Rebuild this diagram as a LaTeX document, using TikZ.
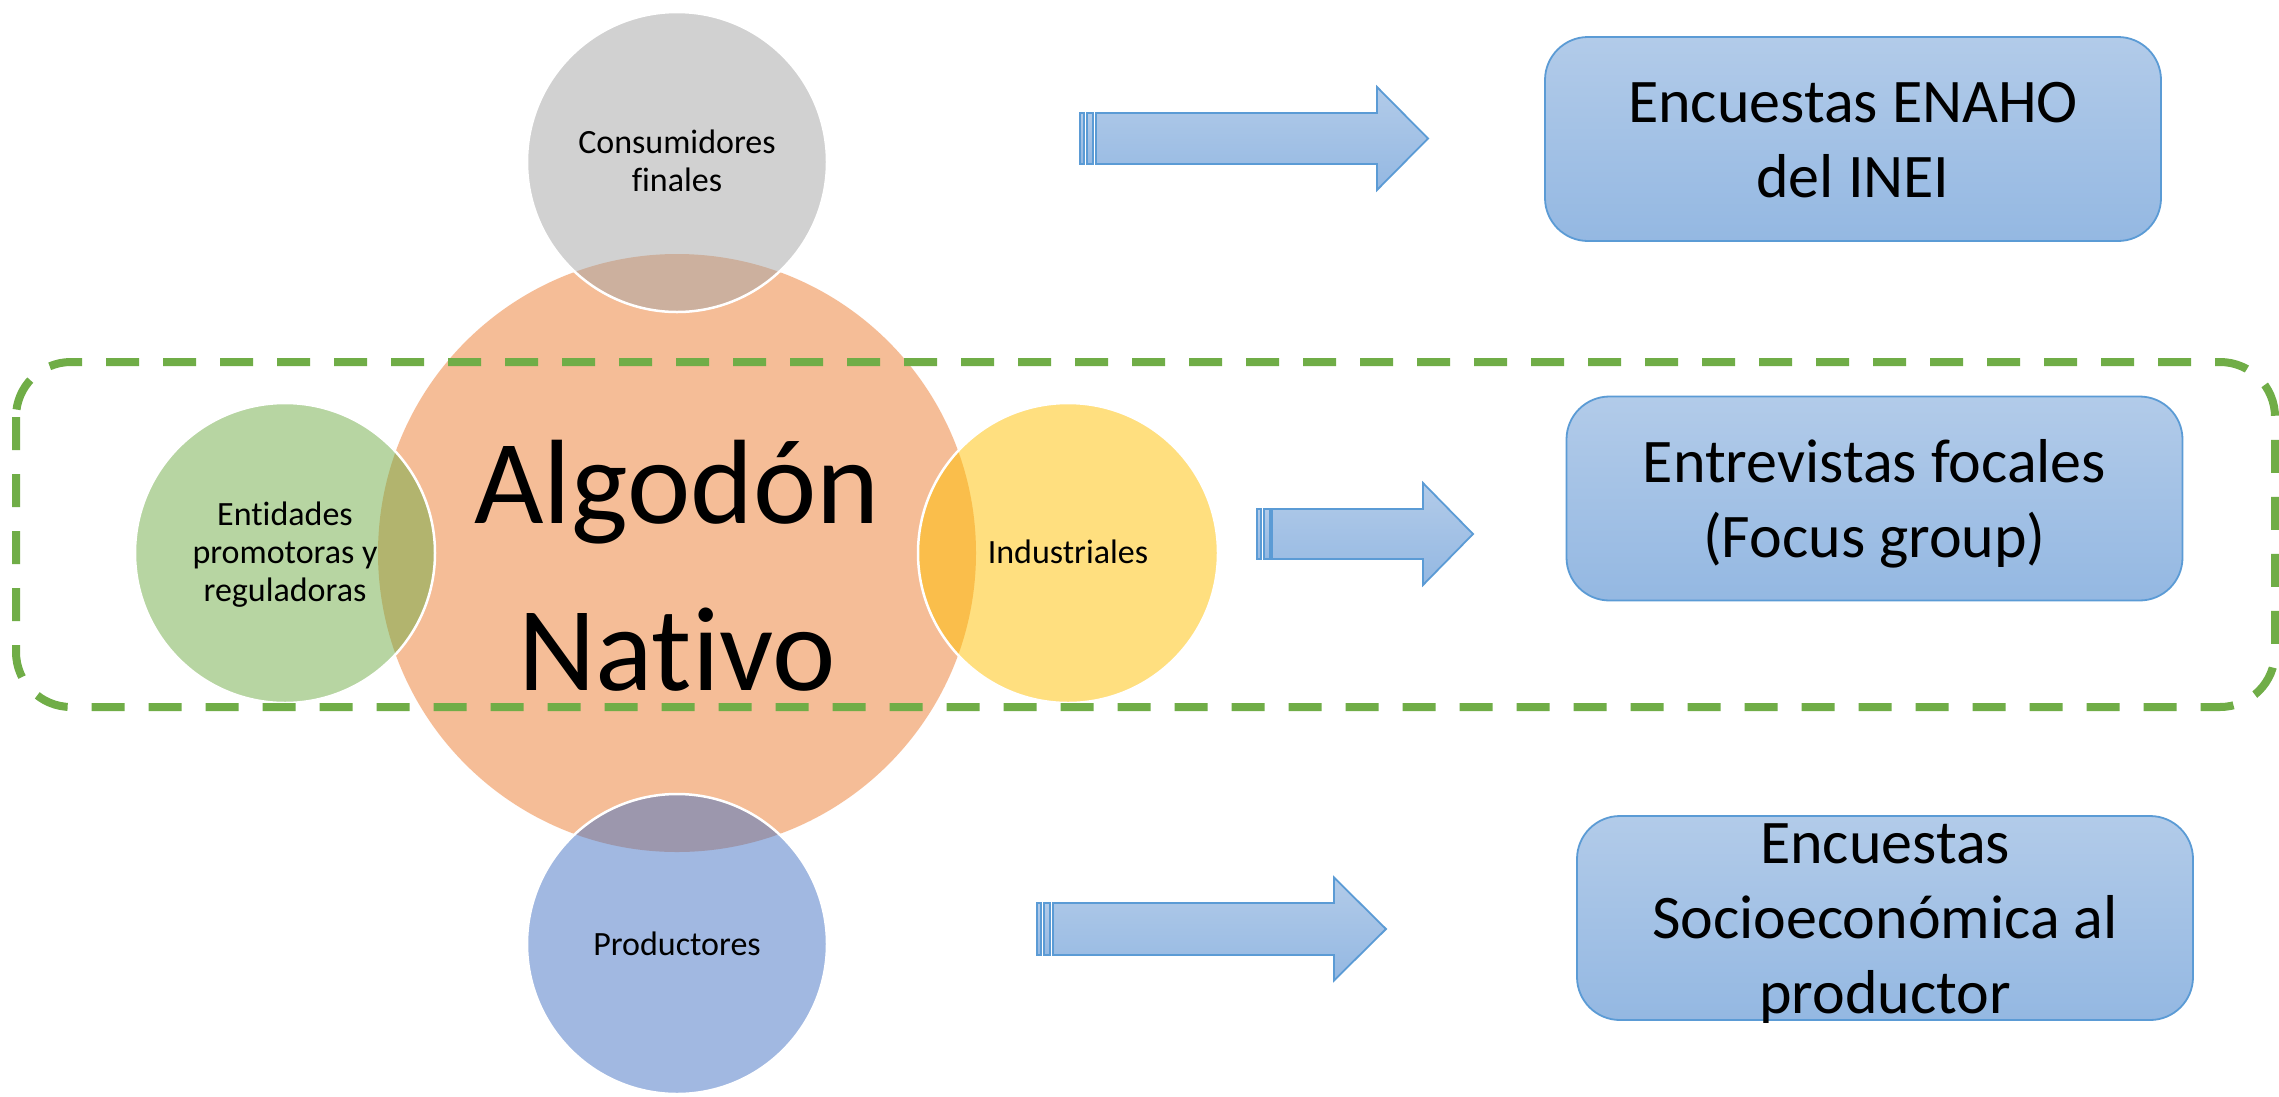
\documentclass[tikz,border=0pt]{standalone}
\usepackage{fontspec}
\setmainfont{Carlito}[Ligatures=NoCommon]
\definecolor{cOrange}{HTML}{ED7D31}
\definecolor{cGray}{HTML}{A5A5A5}
\definecolor{cGreen}{HTML}{70AD47}
\definecolor{cYellow}{HTML}{FFC000}
\definecolor{cBlue}{HTML}{4472C4}
\definecolor{bTop}{RGB}{178,203,233}
\definecolor{bBot}{RGB}{148,184,226}
\definecolor{bLine}{HTML}{5B9BD5}
\definecolor{dashGreen}{HTML}{70AD47}
\newcommand\blkarrow[7]{%
  % #1 x0, #2 body start, #3 head base, #4 tip, #5 yc, #6 body half, #7 head half
  \path[arrowst] (#1,#5-#6) rectangle (#1+4,#5+#6);
  \path[arrowst] (#1+7,#5-#6) rectangle (#1+13,#5+#6);
  \path[arrowst] (#2,#5-#6) -- (#3,#5-#6) -- (#3,#5-#7) -- (#4,#5)
     -- (#3,#5+#7) -- (#3,#5+#6) -- (#2,#5+#6) -- cycle;
}
\begin{document}
\begin{tikzpicture}[x=1pt,y=-1pt,
  bigc/.style={circle, fill=cOrange, fill opacity=0.5, draw=none,
     minimum size=598, inner sep=0},
  smallc/.style={circle, fill=#1, fill opacity=0.5, draw=white,
     draw opacity=1, line width=2.5, minimum size=300, inner sep=0},
  lbl/.style={align=center, inner sep=0, anchor=base,
     font=\fontsize{34}{38}\selectfont},
  biglbl/.style={align=center, inner sep=0, anchor=base,
     font=\fontsize{120}{167}\selectfont},
  boxlbl/.style={align=center, inner sep=0, anchor=base,
     font=\fontsize{62}{75}\selectfont},
  boxst/.style={rectangle, rounded corners=43, draw=bLine, line width=1.8,
     top color=bTop, bottom color=bBot, minimum width=616,
     minimum height=204, inner sep=0},
  arrowst/.style={draw=bLine, line width=1.8, top color=bTop,
     bottom color=bBot},
  groupst/.style={draw=dashGreen, line width=8, dash pattern=on 33 off 24,
     rounded corners=55}
]
\path[fill=white] (0,0) rectangle (2279,1096);
\useasboundingbox (0,0) rectangle (2279,1096);

% circles
\node[bigc] (alg) at (677,553) {};
\node[smallc=cGray] (cons) at (677,162) {};
\node[smallc=cGreen] (ent) at (285,553) {};
\node[smallc=cYellow] (ind) at (1068,553) {};
\node[smallc=cBlue] (prod) at (677,944) {};

% dashed group
\draw[groupst] (16,362) rectangle (2275,707);

% circle texts (base = last line's baseline)
\node[biglbl] (algt) at (677,690) {Algodón\\Nativo};
\node[lbl] (const) at (677,191) {Consumidores\\finales};
\node[lbl] (entt) at (285,601) {Entidades\\promotoras y\\reguladoras};
\node[lbl] (indt) at (1068,563) {Industriales};
\node[lbl] (prodt) at (677,955) {Productores};

% arrows
\blkarrow{1080}{1096}{1377}{1428}{138.5}{25.5}{51.5}
\blkarrow{1257}{1272}{1423}{1473}{534}{25}{51}
\blkarrow{1037}{1053}{1334}{1386}{929}{26}{51.5}

% boxes
\node[boxst] (b1) at (1853,139) {};
\node[boxst] (b2) at (1874.5,498.5) {};
\node[boxst] (b3) at (1885,918) {};
\node[boxlbl] (b1t) at (1853,197) {Encuestas ENAHO\\del INEI};
\node[boxlbl] (b2t) at (1874.5,557) {Entrevistas focales\\(Focus group)};
\node[boxlbl] (b3t) at (1885,1013) {Encuestas\\Socioeconómica al\\productor};
\end{tikzpicture}
\end{document}
